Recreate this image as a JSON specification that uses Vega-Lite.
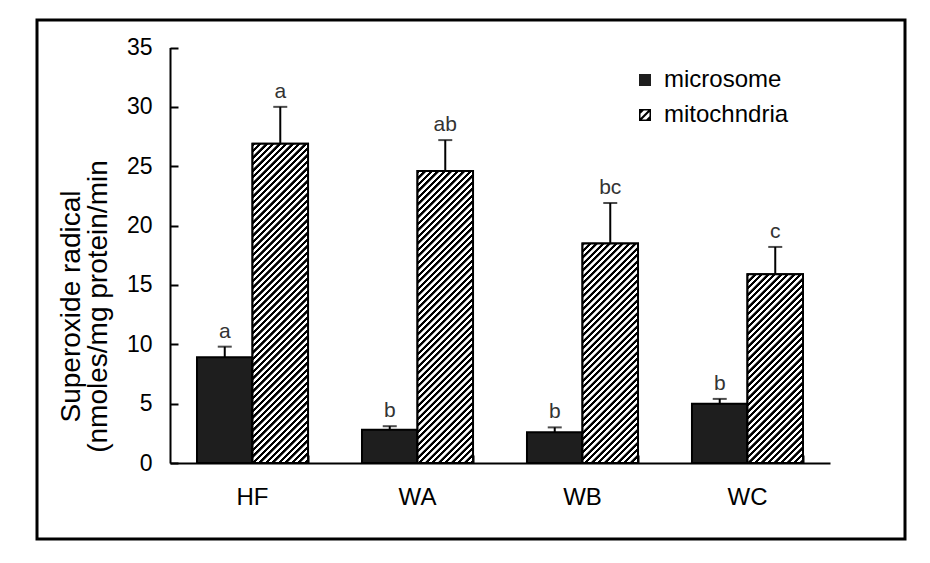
{
  "$schema": "https://vega.github.io/schema/vega-lite/v6.json",
  "width": 868,
  "height": 519,
  "autosize": "none",
  "padding": {"left": 37, "top": 20, "right": 25, "bottom": 24},
  "background": "#ffffff",
  "config": {
    "font": "Liberation Sans",
    "view": {"stroke": "#000000", "strokeWidth": 3},
    "axis": {"grid": false}
  },
  "data": {
    "values": [
      {"cat": "HF", "type": "microsome", "value": 8.9, "err": 9.8, "letter": "a"},
      {"cat": "HF", "type": "mitochndria", "value": 26.9, "err": 30.0, "letter": "a"},
      {"cat": "WA", "type": "microsome", "value": 2.8, "err": 3.1, "letter": "b"},
      {"cat": "WA", "type": "mitochndria", "value": 24.6, "err": 27.2, "letter": "ab"},
      {"cat": "WB", "type": "microsome", "value": 2.6, "err": 3.0, "letter": "b"},
      {"cat": "WB", "type": "mitochndria", "value": 18.5, "err": 21.9, "letter": "bc"},
      {"cat": "WC", "type": "microsome", "value": 5.0, "err": 5.4, "letter": "b"},
      {"cat": "WC", "type": "mitochndria", "value": 15.9, "err": 18.2, "letter": "c"}
    ]
  },
  "resolve": {"axis": {"x": "independent", "y": "independent"}},
  "encoding": {
    "x": {
      "field": "cat", "type": "nominal",
      "scale": {"type": "band", "range": [133, 793], "paddingInner": 0.327, "paddingOuter": 0.1636},
      "axis": null
    },
    "xOffset": {"field": "type", "type": "nominal", "scale": {"domain": ["microsome", "mitochndria"]}},
    "y": {
      "field": "value", "type": "quantitative",
      "scale": {"domain": [0, 35], "range": [443, 27.5], "nice": false, "zero": false},
      "axis": null
    }
  },
  "layer": [
    {
      "mark": {"type": "bar", "fill": "#1e1e1e", "stroke": "#000000", "strokeWidth": 2},
      "encoding": {
        "x": {
          "field": "cat", "type": "nominal",
          "axis": {
            "orient": "bottom", "offset": -76, "title": null, "labelAngle": 0,
            "domainColor": "#000000", "domainWidth": 2,
            "ticks": false, "tickSize": 0,
            "labelFontSize": 24, "labelColor": "#000000", "labelPadding": 22
          }
        },
        "y": {
          "field": "value", "type": "quantitative",
          "axis": {
            "orient": "left", "offset": -133, "values": [0, 5, 10, 15, 20, 25, 30, 35],
            "domainColor": "#000000", "domainWidth": 2,
            "ticks": false, "tickSize": 0,
            "labelFontSize": 23, "labelColor": "#000000", "labelPadding": 18,
            "title": ["\u00a0\u00a0\u00a0\u00a0\u00a0\u00a0\u00a0\u00a0\u00a0Superoxide radical", "(nmoles/mg protein/min"],
            "titleFontSize": 28, "titleFontWeight": "normal", "titleColor": "#000000",
            "titleLineHeight": 27, "titlePadding": 14, "titleY": 286
          }
        }
      }
    },
    {
      "transform": [{"filter": "datum.value < 0"}],
      "mark": {"type": "point", "filled": true, "opacity": 1, "stroke": "#000000", "strokeWidth": 1.5, "size": 144},
      "encoding": {
        "color": {
          "field": "type", "type": "nominal",
          "scale": {"domain": ["microsome", "mitochndria"], "range": ["#1e1e1e", "#000000"]},
          "legend": {
            "title": null, "orient": "none", "legendX": 596, "legendY": 48,
            "padding": 0, "symbolSize": 144, "symbolStrokeWidth": 1.5, "symbolStrokeColor": "#000000",
            "symbolOpacity": 1,
            "labelFontSize": 24, "labelColor": "#000000", "labelOffset": 7,
            "rowPadding": 11
          }
        },
        "shape": {
          "field": "type", "type": "nominal",
          "scale": {"domain": ["microsome", "mitochndria"], "range": ["square", "M-1,-1H1V1H-1Z M-0.75,-0.75V0.75H0.75V-0.75Z M-1,-0.45L-0.45,-1L0.05,-1L-1,0.05Z M-1,0.75L0.75,-1L1,-1L1,-0.75L-0.75,1L-1,1Z M1,-0.05L1,0.45L0.45,1L-0.05,1Z"]},
          "legend": {
            "title": null, "orient": "none", "legendX": 596, "legendY": 48,
            "padding": 0, "symbolSize": 144, "symbolStrokeWidth": 1.5, "symbolStrokeColor": "#000000",
            "symbolOpacity": 1,
            "labelFontSize": 24, "labelColor": "#000000", "labelOffset": 7,
            "rowPadding": 11
          }
        }
      }
    },
    {
      "transform": [{"filter": "datum.cat === 'HF' && datum.type === 'mitochndria'"}],
      "mark": {"type": "bar", "stroke": "#000000", "strokeWidth": 2, "fill": {"gradient": "linear", "x1": 0, "y1": 0, "x2": 0.2145, "y2": 1.2341, "stops": [
        {"offset":0,"color":"#000"},{"offset":0.007,"color":"#000"},{"offset":0.008,"color":"#fff"},{"offset":0.015,"color":"#fff"},
        {"offset":0.016,"color":"#000"},{"offset":0.023,"color":"#000"},{"offset":0.024,"color":"#fff"},{"offset":0.031,"color":"#fff"},
        {"offset":0.032,"color":"#000"},{"offset":0.039,"color":"#000"},{"offset":0.04,"color":"#fff"},{"offset":0.047,"color":"#fff"},
        {"offset":0.048,"color":"#000"},{"offset":0.055,"color":"#000"},{"offset":0.056,"color":"#fff"},{"offset":0.063,"color":"#fff"},
        {"offset":0.064,"color":"#000"},{"offset":0.071,"color":"#000"},{"offset":0.072,"color":"#fff"},{"offset":0.079,"color":"#fff"},
        {"offset":0.08,"color":"#000"},{"offset":0.087,"color":"#000"},{"offset":0.088,"color":"#fff"},{"offset":0.095,"color":"#fff"},
        {"offset":0.096,"color":"#000"},{"offset":0.103,"color":"#000"},{"offset":0.104,"color":"#fff"},{"offset":0.111,"color":"#fff"},
        {"offset":0.112,"color":"#000"},{"offset":0.119,"color":"#000"},{"offset":0.12,"color":"#fff"},{"offset":0.127,"color":"#fff"},
        {"offset":0.128,"color":"#000"},{"offset":0.135,"color":"#000"},{"offset":0.136,"color":"#fff"},{"offset":0.143,"color":"#fff"},
        {"offset":0.144,"color":"#000"},{"offset":0.151,"color":"#000"},{"offset":0.152,"color":"#fff"},{"offset":0.159,"color":"#fff"},
        {"offset":0.16,"color":"#000"},{"offset":0.167,"color":"#000"},{"offset":0.168,"color":"#fff"},{"offset":0.175,"color":"#fff"},
        {"offset":0.176,"color":"#000"},{"offset":0.183,"color":"#000"},{"offset":0.184,"color":"#fff"},{"offset":0.191,"color":"#fff"},
        {"offset":0.192,"color":"#000"},{"offset":0.199,"color":"#000"},{"offset":0.2,"color":"#fff"},{"offset":0.207,"color":"#fff"},
        {"offset":0.208,"color":"#000"},{"offset":0.215,"color":"#000"},{"offset":0.216,"color":"#fff"},{"offset":0.223,"color":"#fff"},
        {"offset":0.224,"color":"#000"},{"offset":0.231,"color":"#000"},{"offset":0.232,"color":"#fff"},{"offset":0.239,"color":"#fff"},
        {"offset":0.24,"color":"#000"},{"offset":0.247,"color":"#000"},{"offset":0.248,"color":"#fff"},{"offset":0.255,"color":"#fff"},
        {"offset":0.256,"color":"#000"},{"offset":0.263,"color":"#000"},{"offset":0.264,"color":"#fff"},{"offset":0.271,"color":"#fff"},
        {"offset":0.272,"color":"#000"},{"offset":0.279,"color":"#000"},{"offset":0.28,"color":"#fff"},{"offset":0.287,"color":"#fff"},
        {"offset":0.288,"color":"#000"},{"offset":0.295,"color":"#000"},{"offset":0.296,"color":"#fff"},{"offset":0.303,"color":"#fff"},
        {"offset":0.304,"color":"#000"},{"offset":0.311,"color":"#000"},{"offset":0.312,"color":"#fff"},{"offset":0.319,"color":"#fff"},
        {"offset":0.32,"color":"#000"},{"offset":0.327,"color":"#000"},{"offset":0.328,"color":"#fff"},{"offset":0.335,"color":"#fff"},
        {"offset":0.336,"color":"#000"},{"offset":0.343,"color":"#000"},{"offset":0.344,"color":"#fff"},{"offset":0.351,"color":"#fff"},
        {"offset":0.352,"color":"#000"},{"offset":0.359,"color":"#000"},{"offset":0.36,"color":"#fff"},{"offset":0.367,"color":"#fff"},
        {"offset":0.368,"color":"#000"},{"offset":0.375,"color":"#000"},{"offset":0.376,"color":"#fff"},{"offset":0.383,"color":"#fff"},
        {"offset":0.384,"color":"#000"},{"offset":0.391,"color":"#000"},{"offset":0.392,"color":"#fff"},{"offset":0.399,"color":"#fff"},
        {"offset":0.4,"color":"#000"},{"offset":0.407,"color":"#000"},{"offset":0.408,"color":"#fff"},{"offset":0.415,"color":"#fff"},
        {"offset":0.416,"color":"#000"},{"offset":0.423,"color":"#000"},{"offset":0.424,"color":"#fff"},{"offset":0.431,"color":"#fff"},
        {"offset":0.432,"color":"#000"},{"offset":0.439,"color":"#000"},{"offset":0.44,"color":"#fff"},{"offset":0.447,"color":"#fff"},
        {"offset":0.448,"color":"#000"},{"offset":0.455,"color":"#000"},{"offset":0.456,"color":"#fff"},{"offset":0.463,"color":"#fff"},
        {"offset":0.464,"color":"#000"},{"offset":0.471,"color":"#000"},{"offset":0.472,"color":"#fff"},{"offset":0.479,"color":"#fff"},
        {"offset":0.48,"color":"#000"},{"offset":0.487,"color":"#000"},{"offset":0.488,"color":"#fff"},{"offset":0.495,"color":"#fff"},
        {"offset":0.496,"color":"#000"},{"offset":0.503,"color":"#000"},{"offset":0.504,"color":"#fff"},{"offset":0.511,"color":"#fff"},
        {"offset":0.512,"color":"#000"},{"offset":0.519,"color":"#000"},{"offset":0.52,"color":"#fff"},{"offset":0.527,"color":"#fff"},
        {"offset":0.528,"color":"#000"},{"offset":0.535,"color":"#000"},{"offset":0.536,"color":"#fff"},{"offset":0.543,"color":"#fff"},
        {"offset":0.544,"color":"#000"},{"offset":0.551,"color":"#000"},{"offset":0.552,"color":"#fff"},{"offset":0.559,"color":"#fff"},
        {"offset":0.56,"color":"#000"},{"offset":0.567,"color":"#000"},{"offset":0.568,"color":"#fff"},{"offset":0.575,"color":"#fff"},
        {"offset":0.576,"color":"#000"},{"offset":0.583,"color":"#000"},{"offset":0.584,"color":"#fff"},{"offset":0.591,"color":"#fff"},
        {"offset":0.592,"color":"#000"},{"offset":0.599,"color":"#000"},{"offset":0.6,"color":"#fff"},{"offset":0.607,"color":"#fff"},
        {"offset":0.608,"color":"#000"},{"offset":0.615,"color":"#000"},{"offset":0.616,"color":"#fff"},{"offset":0.623,"color":"#fff"},
        {"offset":0.624,"color":"#000"},{"offset":0.631,"color":"#000"},{"offset":0.632,"color":"#fff"},{"offset":0.639,"color":"#fff"},
        {"offset":0.64,"color":"#000"},{"offset":0.647,"color":"#000"},{"offset":0.648,"color":"#fff"},{"offset":0.655,"color":"#fff"},
        {"offset":0.656,"color":"#000"},{"offset":0.663,"color":"#000"},{"offset":0.664,"color":"#fff"},{"offset":0.671,"color":"#fff"},
        {"offset":0.672,"color":"#000"},{"offset":0.679,"color":"#000"},{"offset":0.68,"color":"#fff"},{"offset":0.687,"color":"#fff"},
        {"offset":0.688,"color":"#000"},{"offset":0.695,"color":"#000"},{"offset":0.696,"color":"#fff"},{"offset":0.703,"color":"#fff"},
        {"offset":0.704,"color":"#000"},{"offset":0.711,"color":"#000"},{"offset":0.712,"color":"#fff"},{"offset":0.719,"color":"#fff"},
        {"offset":0.72,"color":"#000"},{"offset":0.727,"color":"#000"},{"offset":0.728,"color":"#fff"},{"offset":0.735,"color":"#fff"},
        {"offset":0.736,"color":"#000"},{"offset":0.743,"color":"#000"},{"offset":0.744,"color":"#fff"},{"offset":0.751,"color":"#fff"},
        {"offset":0.752,"color":"#000"},{"offset":0.759,"color":"#000"},{"offset":0.76,"color":"#fff"},{"offset":0.767,"color":"#fff"},
        {"offset":0.768,"color":"#000"},{"offset":0.775,"color":"#000"},{"offset":0.776,"color":"#fff"},{"offset":0.783,"color":"#fff"},
        {"offset":0.784,"color":"#000"},{"offset":0.791,"color":"#000"},{"offset":0.792,"color":"#fff"},{"offset":0.799,"color":"#fff"},
        {"offset":0.8,"color":"#000"},{"offset":0.807,"color":"#000"},{"offset":0.808,"color":"#fff"},{"offset":0.815,"color":"#fff"},
        {"offset":0.816,"color":"#000"},{"offset":0.823,"color":"#000"},{"offset":0.824,"color":"#fff"},{"offset":0.831,"color":"#fff"},
        {"offset":0.832,"color":"#000"},{"offset":0.839,"color":"#000"},{"offset":0.84,"color":"#fff"},{"offset":0.847,"color":"#fff"},
        {"offset":0.848,"color":"#000"},{"offset":0.855,"color":"#000"},{"offset":0.856,"color":"#fff"},{"offset":0.863,"color":"#fff"},
        {"offset":0.864,"color":"#000"},{"offset":0.871,"color":"#000"},{"offset":0.872,"color":"#fff"},{"offset":0.879,"color":"#fff"},
        {"offset":0.88,"color":"#000"},{"offset":0.887,"color":"#000"},{"offset":0.888,"color":"#fff"},{"offset":0.895,"color":"#fff"},
        {"offset":0.896,"color":"#000"},{"offset":0.903,"color":"#000"},{"offset":0.904,"color":"#fff"},{"offset":0.911,"color":"#fff"},
        {"offset":0.912,"color":"#000"},{"offset":0.919,"color":"#000"},{"offset":0.92,"color":"#fff"},{"offset":0.927,"color":"#fff"},
        {"offset":0.928,"color":"#000"},{"offset":0.935,"color":"#000"},{"offset":0.936,"color":"#fff"},{"offset":0.943,"color":"#fff"}
      ]}}
    },
    {
      "transform": [{"filter": "datum.cat === 'WA' && datum.type === 'mitochndria'"}],
      "mark": {"type": "bar", "stroke": "#000000", "strokeWidth": 2, "fill": {"gradient": "linear", "x1": 0, "y1": 0, "x2": 0.255, "y2": 1.3418, "stops": [
        {"offset":0,"color":"#000"},{"offset":0.007,"color":"#000"},{"offset":0.008,"color":"#fff"},{"offset":0.015,"color":"#fff"},
        {"offset":0.016,"color":"#000"},{"offset":0.023,"color":"#000"},{"offset":0.024,"color":"#fff"},{"offset":0.031,"color":"#fff"},
        {"offset":0.032,"color":"#000"},{"offset":0.039,"color":"#000"},{"offset":0.04,"color":"#fff"},{"offset":0.047,"color":"#fff"},
        {"offset":0.048,"color":"#000"},{"offset":0.055,"color":"#000"},{"offset":0.056,"color":"#fff"},{"offset":0.063,"color":"#fff"},
        {"offset":0.064,"color":"#000"},{"offset":0.071,"color":"#000"},{"offset":0.072,"color":"#fff"},{"offset":0.079,"color":"#fff"},
        {"offset":0.08,"color":"#000"},{"offset":0.087,"color":"#000"},{"offset":0.088,"color":"#fff"},{"offset":0.095,"color":"#fff"},
        {"offset":0.096,"color":"#000"},{"offset":0.103,"color":"#000"},{"offset":0.104,"color":"#fff"},{"offset":0.111,"color":"#fff"},
        {"offset":0.112,"color":"#000"},{"offset":0.119,"color":"#000"},{"offset":0.12,"color":"#fff"},{"offset":0.127,"color":"#fff"},
        {"offset":0.128,"color":"#000"},{"offset":0.135,"color":"#000"},{"offset":0.136,"color":"#fff"},{"offset":0.143,"color":"#fff"},
        {"offset":0.144,"color":"#000"},{"offset":0.151,"color":"#000"},{"offset":0.152,"color":"#fff"},{"offset":0.159,"color":"#fff"},
        {"offset":0.16,"color":"#000"},{"offset":0.167,"color":"#000"},{"offset":0.168,"color":"#fff"},{"offset":0.175,"color":"#fff"},
        {"offset":0.176,"color":"#000"},{"offset":0.183,"color":"#000"},{"offset":0.184,"color":"#fff"},{"offset":0.191,"color":"#fff"},
        {"offset":0.192,"color":"#000"},{"offset":0.199,"color":"#000"},{"offset":0.2,"color":"#fff"},{"offset":0.207,"color":"#fff"},
        {"offset":0.208,"color":"#000"},{"offset":0.215,"color":"#000"},{"offset":0.216,"color":"#fff"},{"offset":0.223,"color":"#fff"},
        {"offset":0.224,"color":"#000"},{"offset":0.231,"color":"#000"},{"offset":0.232,"color":"#fff"},{"offset":0.239,"color":"#fff"},
        {"offset":0.24,"color":"#000"},{"offset":0.247,"color":"#000"},{"offset":0.248,"color":"#fff"},{"offset":0.255,"color":"#fff"},
        {"offset":0.256,"color":"#000"},{"offset":0.263,"color":"#000"},{"offset":0.264,"color":"#fff"},{"offset":0.271,"color":"#fff"},
        {"offset":0.272,"color":"#000"},{"offset":0.279,"color":"#000"},{"offset":0.28,"color":"#fff"},{"offset":0.287,"color":"#fff"},
        {"offset":0.288,"color":"#000"},{"offset":0.295,"color":"#000"},{"offset":0.296,"color":"#fff"},{"offset":0.303,"color":"#fff"},
        {"offset":0.304,"color":"#000"},{"offset":0.311,"color":"#000"},{"offset":0.312,"color":"#fff"},{"offset":0.319,"color":"#fff"},
        {"offset":0.32,"color":"#000"},{"offset":0.327,"color":"#000"},{"offset":0.328,"color":"#fff"},{"offset":0.335,"color":"#fff"},
        {"offset":0.336,"color":"#000"},{"offset":0.343,"color":"#000"},{"offset":0.344,"color":"#fff"},{"offset":0.351,"color":"#fff"},
        {"offset":0.352,"color":"#000"},{"offset":0.359,"color":"#000"},{"offset":0.36,"color":"#fff"},{"offset":0.367,"color":"#fff"},
        {"offset":0.368,"color":"#000"},{"offset":0.375,"color":"#000"},{"offset":0.376,"color":"#fff"},{"offset":0.383,"color":"#fff"},
        {"offset":0.384,"color":"#000"},{"offset":0.391,"color":"#000"},{"offset":0.392,"color":"#fff"},{"offset":0.399,"color":"#fff"},
        {"offset":0.4,"color":"#000"},{"offset":0.407,"color":"#000"},{"offset":0.408,"color":"#fff"},{"offset":0.415,"color":"#fff"},
        {"offset":0.416,"color":"#000"},{"offset":0.423,"color":"#000"},{"offset":0.424,"color":"#fff"},{"offset":0.431,"color":"#fff"},
        {"offset":0.432,"color":"#000"},{"offset":0.439,"color":"#000"},{"offset":0.44,"color":"#fff"},{"offset":0.447,"color":"#fff"},
        {"offset":0.448,"color":"#000"},{"offset":0.455,"color":"#000"},{"offset":0.456,"color":"#fff"},{"offset":0.463,"color":"#fff"},
        {"offset":0.464,"color":"#000"},{"offset":0.471,"color":"#000"},{"offset":0.472,"color":"#fff"},{"offset":0.479,"color":"#fff"},
        {"offset":0.48,"color":"#000"},{"offset":0.487,"color":"#000"},{"offset":0.488,"color":"#fff"},{"offset":0.495,"color":"#fff"},
        {"offset":0.496,"color":"#000"},{"offset":0.503,"color":"#000"},{"offset":0.504,"color":"#fff"},{"offset":0.511,"color":"#fff"},
        {"offset":0.512,"color":"#000"},{"offset":0.519,"color":"#000"},{"offset":0.52,"color":"#fff"},{"offset":0.527,"color":"#fff"},
        {"offset":0.528,"color":"#000"},{"offset":0.535,"color":"#000"},{"offset":0.536,"color":"#fff"},{"offset":0.543,"color":"#fff"},
        {"offset":0.544,"color":"#000"},{"offset":0.551,"color":"#000"},{"offset":0.552,"color":"#fff"},{"offset":0.559,"color":"#fff"},
        {"offset":0.56,"color":"#000"},{"offset":0.567,"color":"#000"},{"offset":0.568,"color":"#fff"},{"offset":0.575,"color":"#fff"},
        {"offset":0.576,"color":"#000"},{"offset":0.583,"color":"#000"},{"offset":0.584,"color":"#fff"},{"offset":0.591,"color":"#fff"},
        {"offset":0.592,"color":"#000"},{"offset":0.599,"color":"#000"},{"offset":0.6,"color":"#fff"},{"offset":0.607,"color":"#fff"},
        {"offset":0.608,"color":"#000"},{"offset":0.615,"color":"#000"},{"offset":0.616,"color":"#fff"},{"offset":0.623,"color":"#fff"},
        {"offset":0.624,"color":"#000"},{"offset":0.631,"color":"#000"},{"offset":0.632,"color":"#fff"},{"offset":0.639,"color":"#fff"},
        {"offset":0.64,"color":"#000"},{"offset":0.647,"color":"#000"},{"offset":0.648,"color":"#fff"},{"offset":0.655,"color":"#fff"},
        {"offset":0.656,"color":"#000"},{"offset":0.663,"color":"#000"},{"offset":0.664,"color":"#fff"},{"offset":0.671,"color":"#fff"},
        {"offset":0.672,"color":"#000"},{"offset":0.679,"color":"#000"},{"offset":0.68,"color":"#fff"},{"offset":0.687,"color":"#fff"},
        {"offset":0.688,"color":"#000"},{"offset":0.695,"color":"#000"},{"offset":0.696,"color":"#fff"},{"offset":0.703,"color":"#fff"},
        {"offset":0.704,"color":"#000"},{"offset":0.711,"color":"#000"},{"offset":0.712,"color":"#fff"},{"offset":0.719,"color":"#fff"},
        {"offset":0.72,"color":"#000"},{"offset":0.727,"color":"#000"},{"offset":0.728,"color":"#fff"},{"offset":0.735,"color":"#fff"},
        {"offset":0.736,"color":"#000"},{"offset":0.743,"color":"#000"},{"offset":0.744,"color":"#fff"},{"offset":0.751,"color":"#fff"},
        {"offset":0.752,"color":"#000"},{"offset":0.759,"color":"#000"},{"offset":0.76,"color":"#fff"},{"offset":0.767,"color":"#fff"},
        {"offset":0.768,"color":"#000"},{"offset":0.775,"color":"#000"},{"offset":0.776,"color":"#fff"},{"offset":0.783,"color":"#fff"},
        {"offset":0.784,"color":"#000"},{"offset":0.791,"color":"#000"},{"offset":0.792,"color":"#fff"},{"offset":0.799,"color":"#fff"},
        {"offset":0.8,"color":"#000"},{"offset":0.807,"color":"#000"},{"offset":0.808,"color":"#fff"},{"offset":0.815,"color":"#fff"},
        {"offset":0.816,"color":"#000"},{"offset":0.823,"color":"#000"},{"offset":0.824,"color":"#fff"},{"offset":0.831,"color":"#fff"},
        {"offset":0.832,"color":"#000"},{"offset":0.839,"color":"#000"},{"offset":0.84,"color":"#fff"},{"offset":0.847,"color":"#fff"},
        {"offset":0.848,"color":"#000"},{"offset":0.855,"color":"#000"},{"offset":0.856,"color":"#fff"},{"offset":0.863,"color":"#fff"},
        {"offset":0.864,"color":"#000"},{"offset":0.871,"color":"#000"},{"offset":0.872,"color":"#fff"},{"offset":0.879,"color":"#fff"}
      ]}}
    },
    {
      "transform": [{"filter": "datum.cat === 'WB' && datum.type === 'mitochndria'"}],
      "mark": {"type": "bar", "stroke": "#000000", "strokeWidth": 2, "fill": {"gradient": "linear", "x1": 0, "y1": 0, "x2": 0.4391, "y2": 1.7377, "stops": [
        {"offset":0,"color":"#000"},{"offset":0.007,"color":"#000"},{"offset":0.008,"color":"#fff"},{"offset":0.015,"color":"#fff"},
        {"offset":0.016,"color":"#000"},{"offset":0.023,"color":"#000"},{"offset":0.024,"color":"#fff"},{"offset":0.031,"color":"#fff"},
        {"offset":0.032,"color":"#000"},{"offset":0.039,"color":"#000"},{"offset":0.04,"color":"#fff"},{"offset":0.047,"color":"#fff"},
        {"offset":0.048,"color":"#000"},{"offset":0.055,"color":"#000"},{"offset":0.056,"color":"#fff"},{"offset":0.063,"color":"#fff"},
        {"offset":0.064,"color":"#000"},{"offset":0.071,"color":"#000"},{"offset":0.072,"color":"#fff"},{"offset":0.079,"color":"#fff"},
        {"offset":0.08,"color":"#000"},{"offset":0.087,"color":"#000"},{"offset":0.088,"color":"#fff"},{"offset":0.095,"color":"#fff"},
        {"offset":0.096,"color":"#000"},{"offset":0.103,"color":"#000"},{"offset":0.104,"color":"#fff"},{"offset":0.111,"color":"#fff"},
        {"offset":0.112,"color":"#000"},{"offset":0.119,"color":"#000"},{"offset":0.12,"color":"#fff"},{"offset":0.127,"color":"#fff"},
        {"offset":0.128,"color":"#000"},{"offset":0.135,"color":"#000"},{"offset":0.136,"color":"#fff"},{"offset":0.143,"color":"#fff"},
        {"offset":0.144,"color":"#000"},{"offset":0.151,"color":"#000"},{"offset":0.152,"color":"#fff"},{"offset":0.159,"color":"#fff"},
        {"offset":0.16,"color":"#000"},{"offset":0.167,"color":"#000"},{"offset":0.168,"color":"#fff"},{"offset":0.175,"color":"#fff"},
        {"offset":0.176,"color":"#000"},{"offset":0.183,"color":"#000"},{"offset":0.184,"color":"#fff"},{"offset":0.191,"color":"#fff"},
        {"offset":0.192,"color":"#000"},{"offset":0.199,"color":"#000"},{"offset":0.2,"color":"#fff"},{"offset":0.207,"color":"#fff"},
        {"offset":0.208,"color":"#000"},{"offset":0.215,"color":"#000"},{"offset":0.216,"color":"#fff"},{"offset":0.223,"color":"#fff"},
        {"offset":0.224,"color":"#000"},{"offset":0.231,"color":"#000"},{"offset":0.232,"color":"#fff"},{"offset":0.239,"color":"#fff"},
        {"offset":0.24,"color":"#000"},{"offset":0.247,"color":"#000"},{"offset":0.248,"color":"#fff"},{"offset":0.255,"color":"#fff"},
        {"offset":0.256,"color":"#000"},{"offset":0.263,"color":"#000"},{"offset":0.264,"color":"#fff"},{"offset":0.271,"color":"#fff"},
        {"offset":0.272,"color":"#000"},{"offset":0.279,"color":"#000"},{"offset":0.28,"color":"#fff"},{"offset":0.287,"color":"#fff"},
        {"offset":0.288,"color":"#000"},{"offset":0.295,"color":"#000"},{"offset":0.296,"color":"#fff"},{"offset":0.303,"color":"#fff"},
        {"offset":0.304,"color":"#000"},{"offset":0.311,"color":"#000"},{"offset":0.312,"color":"#fff"},{"offset":0.319,"color":"#fff"},
        {"offset":0.32,"color":"#000"},{"offset":0.327,"color":"#000"},{"offset":0.328,"color":"#fff"},{"offset":0.335,"color":"#fff"},
        {"offset":0.336,"color":"#000"},{"offset":0.343,"color":"#000"},{"offset":0.344,"color":"#fff"},{"offset":0.351,"color":"#fff"},
        {"offset":0.352,"color":"#000"},{"offset":0.359,"color":"#000"},{"offset":0.36,"color":"#fff"},{"offset":0.367,"color":"#fff"},
        {"offset":0.368,"color":"#000"},{"offset":0.375,"color":"#000"},{"offset":0.376,"color":"#fff"},{"offset":0.383,"color":"#fff"},
        {"offset":0.384,"color":"#000"},{"offset":0.391,"color":"#000"},{"offset":0.392,"color":"#fff"},{"offset":0.399,"color":"#fff"},
        {"offset":0.4,"color":"#000"},{"offset":0.407,"color":"#000"},{"offset":0.408,"color":"#fff"},{"offset":0.415,"color":"#fff"},
        {"offset":0.416,"color":"#000"},{"offset":0.423,"color":"#000"},{"offset":0.424,"color":"#fff"},{"offset":0.431,"color":"#fff"},
        {"offset":0.432,"color":"#000"},{"offset":0.439,"color":"#000"},{"offset":0.44,"color":"#fff"},{"offset":0.447,"color":"#fff"},
        {"offset":0.448,"color":"#000"},{"offset":0.455,"color":"#000"},{"offset":0.456,"color":"#fff"},{"offset":0.463,"color":"#fff"},
        {"offset":0.464,"color":"#000"},{"offset":0.471,"color":"#000"},{"offset":0.472,"color":"#fff"},{"offset":0.479,"color":"#fff"},
        {"offset":0.48,"color":"#000"},{"offset":0.487,"color":"#000"},{"offset":0.488,"color":"#fff"},{"offset":0.495,"color":"#fff"},
        {"offset":0.496,"color":"#000"},{"offset":0.503,"color":"#000"},{"offset":0.504,"color":"#fff"},{"offset":0.511,"color":"#fff"},
        {"offset":0.512,"color":"#000"},{"offset":0.519,"color":"#000"},{"offset":0.52,"color":"#fff"},{"offset":0.527,"color":"#fff"},
        {"offset":0.528,"color":"#000"},{"offset":0.535,"color":"#000"},{"offset":0.536,"color":"#fff"},{"offset":0.543,"color":"#fff"},
        {"offset":0.544,"color":"#000"},{"offset":0.551,"color":"#000"},{"offset":0.552,"color":"#fff"},{"offset":0.559,"color":"#fff"},
        {"offset":0.56,"color":"#000"},{"offset":0.567,"color":"#000"},{"offset":0.568,"color":"#fff"},{"offset":0.575,"color":"#fff"},
        {"offset":0.576,"color":"#000"},{"offset":0.583,"color":"#000"},{"offset":0.584,"color":"#fff"},{"offset":0.591,"color":"#fff"},
        {"offset":0.592,"color":"#000"},{"offset":0.599,"color":"#000"},{"offset":0.6,"color":"#fff"},{"offset":0.607,"color":"#fff"},
        {"offset":0.608,"color":"#000"},{"offset":0.615,"color":"#000"},{"offset":0.616,"color":"#fff"},{"offset":0.623,"color":"#fff"},
        {"offset":0.624,"color":"#000"},{"offset":0.631,"color":"#000"},{"offset":0.632,"color":"#fff"},{"offset":0.639,"color":"#fff"},
        {"offset":0.64,"color":"#000"},{"offset":0.647,"color":"#000"},{"offset":0.648,"color":"#fff"},{"offset":0.655,"color":"#fff"},
        {"offset":0.656,"color":"#000"},{"offset":0.663,"color":"#000"},{"offset":0.664,"color":"#fff"},{"offset":0.671,"color":"#fff"},
        {"offset":0.672,"color":"#000"},{"offset":0.679,"color":"#000"},{"offset":0.68,"color":"#fff"},{"offset":0.687,"color":"#fff"},
        {"offset":0.688,"color":"#000"},{"offset":0.695,"color":"#000"},{"offset":0.696,"color":"#fff"},{"offset":0.703,"color":"#fff"}
      ]}}
    },
    {
      "transform": [{"filter": "datum.cat === 'WC' && datum.type === 'mitochndria'"}],
      "mark": {"type": "bar", "stroke": "#000000", "strokeWidth": 2, "fill": {"gradient": "linear", "x1": 0, "y1": 0, "x2": 0.5821, "y2": 1.9798, "stops": [
        {"offset":0,"color":"#000"},{"offset":0.007,"color":"#000"},{"offset":0.008,"color":"#fff"},{"offset":0.015,"color":"#fff"},
        {"offset":0.016,"color":"#000"},{"offset":0.023,"color":"#000"},{"offset":0.024,"color":"#fff"},{"offset":0.031,"color":"#fff"},
        {"offset":0.032,"color":"#000"},{"offset":0.039,"color":"#000"},{"offset":0.04,"color":"#fff"},{"offset":0.047,"color":"#fff"},
        {"offset":0.048,"color":"#000"},{"offset":0.055,"color":"#000"},{"offset":0.056,"color":"#fff"},{"offset":0.063,"color":"#fff"},
        {"offset":0.064,"color":"#000"},{"offset":0.071,"color":"#000"},{"offset":0.072,"color":"#fff"},{"offset":0.079,"color":"#fff"},
        {"offset":0.08,"color":"#000"},{"offset":0.087,"color":"#000"},{"offset":0.088,"color":"#fff"},{"offset":0.095,"color":"#fff"},
        {"offset":0.096,"color":"#000"},{"offset":0.103,"color":"#000"},{"offset":0.104,"color":"#fff"},{"offset":0.111,"color":"#fff"},
        {"offset":0.112,"color":"#000"},{"offset":0.119,"color":"#000"},{"offset":0.12,"color":"#fff"},{"offset":0.127,"color":"#fff"},
        {"offset":0.128,"color":"#000"},{"offset":0.135,"color":"#000"},{"offset":0.136,"color":"#fff"},{"offset":0.143,"color":"#fff"},
        {"offset":0.144,"color":"#000"},{"offset":0.151,"color":"#000"},{"offset":0.152,"color":"#fff"},{"offset":0.159,"color":"#fff"},
        {"offset":0.16,"color":"#000"},{"offset":0.167,"color":"#000"},{"offset":0.168,"color":"#fff"},{"offset":0.175,"color":"#fff"},
        {"offset":0.176,"color":"#000"},{"offset":0.183,"color":"#000"},{"offset":0.184,"color":"#fff"},{"offset":0.191,"color":"#fff"},
        {"offset":0.192,"color":"#000"},{"offset":0.199,"color":"#000"},{"offset":0.2,"color":"#fff"},{"offset":0.207,"color":"#fff"},
        {"offset":0.208,"color":"#000"},{"offset":0.215,"color":"#000"},{"offset":0.216,"color":"#fff"},{"offset":0.223,"color":"#fff"},
        {"offset":0.224,"color":"#000"},{"offset":0.231,"color":"#000"},{"offset":0.232,"color":"#fff"},{"offset":0.239,"color":"#fff"},
        {"offset":0.24,"color":"#000"},{"offset":0.247,"color":"#000"},{"offset":0.248,"color":"#fff"},{"offset":0.255,"color":"#fff"},
        {"offset":0.256,"color":"#000"},{"offset":0.263,"color":"#000"},{"offset":0.264,"color":"#fff"},{"offset":0.271,"color":"#fff"},
        {"offset":0.272,"color":"#000"},{"offset":0.279,"color":"#000"},{"offset":0.28,"color":"#fff"},{"offset":0.287,"color":"#fff"},
        {"offset":0.288,"color":"#000"},{"offset":0.295,"color":"#000"},{"offset":0.296,"color":"#fff"},{"offset":0.303,"color":"#fff"},
        {"offset":0.304,"color":"#000"},{"offset":0.311,"color":"#000"},{"offset":0.312,"color":"#fff"},{"offset":0.319,"color":"#fff"},
        {"offset":0.32,"color":"#000"},{"offset":0.327,"color":"#000"},{"offset":0.328,"color":"#fff"},{"offset":0.335,"color":"#fff"},
        {"offset":0.336,"color":"#000"},{"offset":0.343,"color":"#000"},{"offset":0.344,"color":"#fff"},{"offset":0.351,"color":"#fff"},
        {"offset":0.352,"color":"#000"},{"offset":0.359,"color":"#000"},{"offset":0.36,"color":"#fff"},{"offset":0.367,"color":"#fff"},
        {"offset":0.368,"color":"#000"},{"offset":0.375,"color":"#000"},{"offset":0.376,"color":"#fff"},{"offset":0.383,"color":"#fff"},
        {"offset":0.384,"color":"#000"},{"offset":0.391,"color":"#000"},{"offset":0.392,"color":"#fff"},{"offset":0.399,"color":"#fff"},
        {"offset":0.4,"color":"#000"},{"offset":0.407,"color":"#000"},{"offset":0.408,"color":"#fff"},{"offset":0.415,"color":"#fff"},
        {"offset":0.416,"color":"#000"},{"offset":0.423,"color":"#000"},{"offset":0.424,"color":"#fff"},{"offset":0.431,"color":"#fff"},
        {"offset":0.432,"color":"#000"},{"offset":0.439,"color":"#000"},{"offset":0.44,"color":"#fff"},{"offset":0.447,"color":"#fff"},
        {"offset":0.448,"color":"#000"},{"offset":0.455,"color":"#000"},{"offset":0.456,"color":"#fff"},{"offset":0.463,"color":"#fff"},
        {"offset":0.464,"color":"#000"},{"offset":0.471,"color":"#000"},{"offset":0.472,"color":"#fff"},{"offset":0.479,"color":"#fff"},
        {"offset":0.48,"color":"#000"},{"offset":0.487,"color":"#000"},{"offset":0.488,"color":"#fff"},{"offset":0.495,"color":"#fff"},
        {"offset":0.496,"color":"#000"},{"offset":0.503,"color":"#000"},{"offset":0.504,"color":"#fff"},{"offset":0.511,"color":"#fff"},
        {"offset":0.512,"color":"#000"},{"offset":0.519,"color":"#000"},{"offset":0.52,"color":"#fff"},{"offset":0.527,"color":"#fff"},
        {"offset":0.528,"color":"#000"},{"offset":0.535,"color":"#000"},{"offset":0.536,"color":"#fff"},{"offset":0.543,"color":"#fff"},
        {"offset":0.544,"color":"#000"},{"offset":0.551,"color":"#000"},{"offset":0.552,"color":"#fff"},{"offset":0.559,"color":"#fff"},
        {"offset":0.56,"color":"#000"},{"offset":0.567,"color":"#000"},{"offset":0.568,"color":"#fff"},{"offset":0.575,"color":"#fff"},
        {"offset":0.576,"color":"#000"},{"offset":0.583,"color":"#000"},{"offset":0.584,"color":"#fff"},{"offset":0.591,"color":"#fff"},
        {"offset":0.592,"color":"#000"},{"offset":0.599,"color":"#000"},{"offset":0.6,"color":"#fff"},{"offset":0.607,"color":"#fff"},
        {"offset":0.608,"color":"#000"},{"offset":0.615,"color":"#000"},{"offset":0.616,"color":"#fff"},{"offset":0.623,"color":"#fff"}
      ]}}
    },
    {
      "mark": {"type": "rule", "color": "#000000", "strokeWidth": 2},
      "encoding": {
        "x": {
          "field": "cat", "type": "nominal",
          "axis": {
            "orient": "top", "offset": -443, "title": null, "labels": false, "domain": false,
            "ticks": true, "tickSize": 8, "tickWidth": 2, "tickColor": "#000000", "tickBand": "extent"
          }
        },
        "y": {
          "field": "value", "type": "quantitative",
          "axis": {
            "orient": "right", "offset": -735, "title": null, "labels": false, "domain": false,
            "ticks": true, "tickSize": 8, "tickWidth": 2, "tickColor": "#000000",
            "values": [0, 5, 10, 15, 20, 25, 30, 35]
          }
        },
        "y2": {"field": "err"}
      }
    },
    {
      "mark": {"type": "tick", "color": "#000000", "thickness": 2, "size": 14},
      "encoding": {"y": {"field": "err", "type": "quantitative", "axis": null}}
    },
    {
      "mark": {"type": "text", "fontSize": 21, "color": "#333333", "baseline": "alphabetic", "dy": -9},
      "encoding": {"y": {"field": "err", "type": "quantitative", "axis": null}, "text": {"field": "letter"}}
    }
  ]
}
